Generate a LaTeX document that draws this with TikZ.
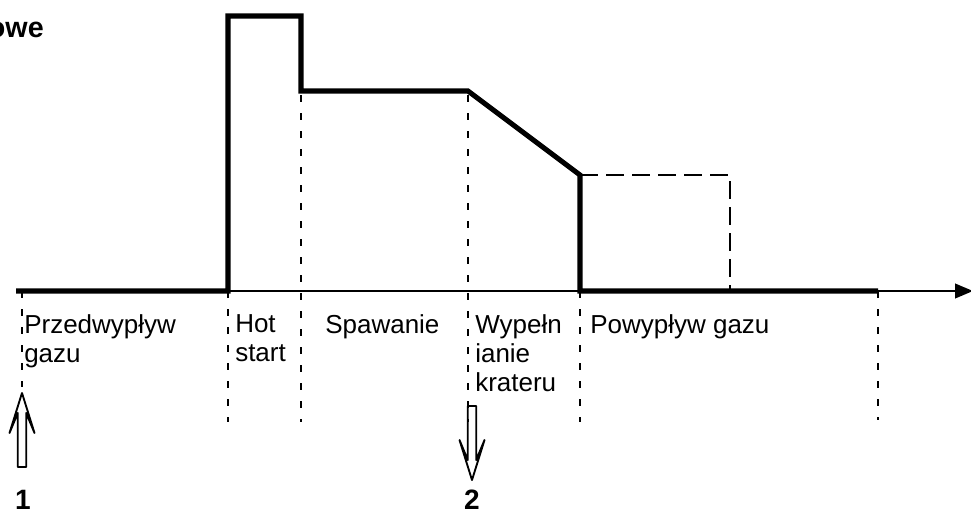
\documentclass[tikz,border=0pt]{standalone}
\usepackage{fontspec}
\setmainfont{Liberation Sans}
\usetikzlibrary{arrows.meta}
\tikzset{
  markarrow/.pic={
    \draw[line width=1.4pt,line join=round] (0,0) -- (12.5,40) -- (4.2,20) -- (4.2,74)
      -- (-4.2,74) -- (-4.2,20) -- (-12.5,40) -- cycle;
  }
}
\begin{document}
\begin{tikzpicture}[x=0.75pt,y=-0.75pt,
  pulse/.style={line width=3.8pt,line join=miter},
  guide/.style={line width=2pt,dash pattern=on 5pt off 8.5pt},
  lbl/.style={anchor=north west,inner sep=0pt,align=left,font=\fontsize{19.5}{21.75}\selectfont},
  num/.style={anchor=base,inner sep=0pt,font=\bfseries\fontsize{21}{24}\selectfont}]
  \useasboundingbox (0,0) rectangle (971,511);
  % phase boundaries
  \foreach \x/\ytop/\ybot in {22/291/387,228/291/422,301/95/422,468/95/422,580/291/422,878/291/420}
    \draw[guide] (\x,\ytop) -- (\x,\ybot);
  % time axis
  \draw[line width=1.5pt,-{Triangle[length=13.5pt,width=11pt]}] (16,291) -- (973,291);
  % gas after-flow
  \draw[line width=1.6pt,dash pattern=on 13.5pt off 6pt] (580,175) -- (730,175) -- (730,291);
  % current curve
  \draw[pulse] (16,291) -- (228,291) -- (228,16) -- (301,16) -- (301,91) -- (468,91)
    -- (580,175) -- (580,291) -- (878,291);
  \node[anchor=base east,inner sep=0pt,font=\bfseries\fontsize{21.5}{24}\selectfont] (title) at (44,37) {owe};
  \node[lbl] (pre) at (24,314) {Przedwyp\l{}yw\\gazu};
  \node[lbl] (hot) at (235,314) {Hot\\start};
  \node[lbl] (weld) at (325,314) {Spawanie};
  \node[lbl] (crater) at (475,314) {Wype\l{}n\\ianie\\krateru};
  \node[lbl] (post) at (590,314) {Powyp\l{}yw gazu};
  % trigger marks
  \pic at (22,393) {markarrow};
  \pic[rotate=180] at (472,480) {markarrow};
  \node[num] (n1) at (23,509) {1};
  \node[num] (n2) at (472,509) {2};
\end{tikzpicture}
\end{document}
